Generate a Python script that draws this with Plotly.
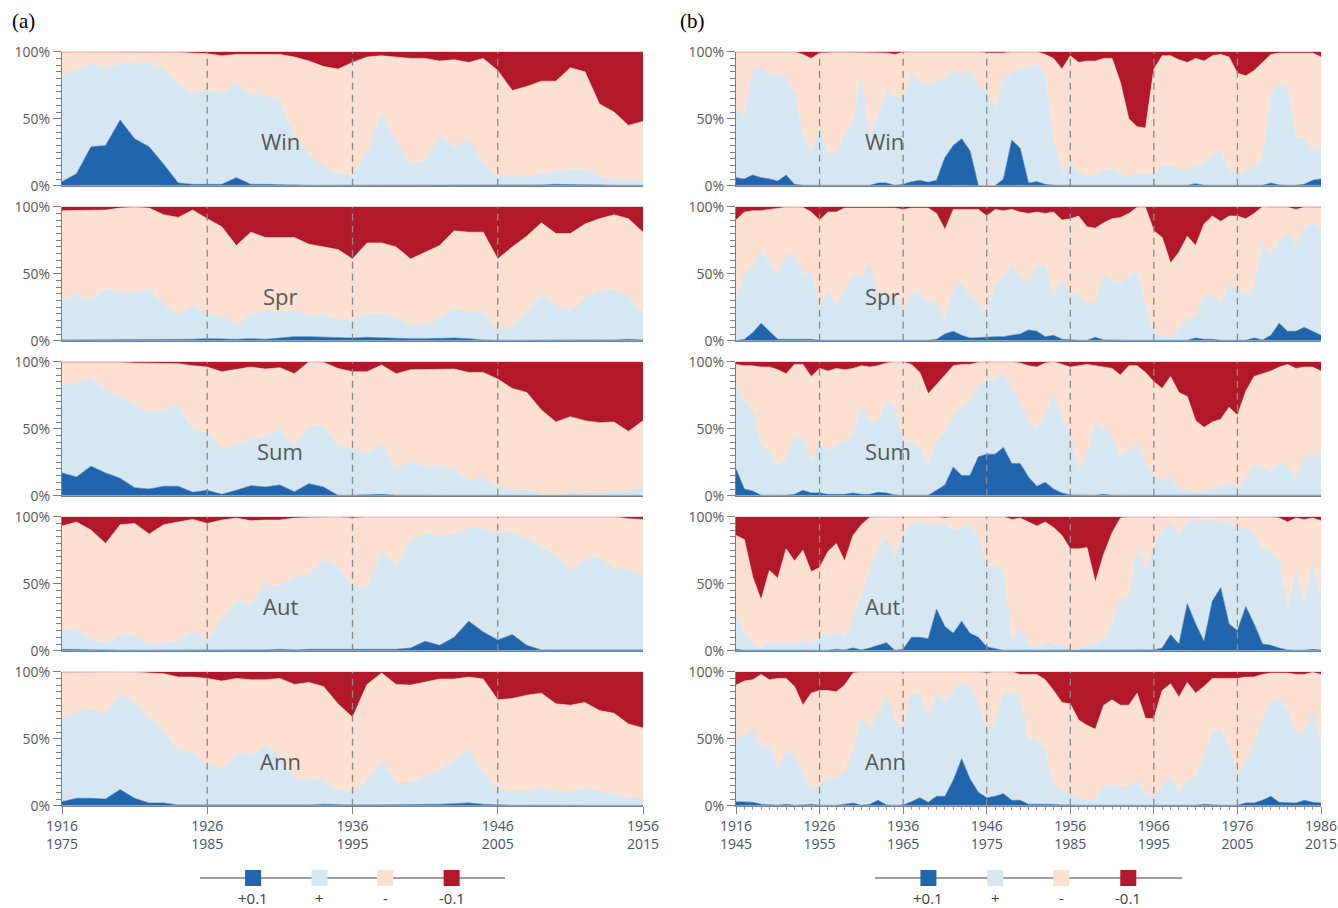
import numpy as np
import plotly.graph_objects as go

# ---------------- data ----------------
SEASONS = ["Win", "Spr", "Sum", "Aut", "Ann"]
LEGEND_LABELS = ["+0.1", "+", "-", "-0.1"]
COLORS = ["#2166ac", "#d6e7f1", "#fce0d1", "#b2182b"]

A_START, A_END = 1916, 1956
B_START, B_END = 1916, 1986
A_TICKS = [1916, 1926, 1936, 1946, 1956]
A_TICK_END = [1975, 1985, 1995, 2005, 2015]
B_TICKS = [1916, 1926, 1936, 1946, 1956, 1966, 1976, 1986]
B_TICK_END = [1945, 1955, 1965, 1975, 1985, 1995, 2005, 2015]

# cumulative boundaries (%) : top of "+0.1", top of "+", top of "-"
A_WIN_B1 = [3,9,29,30,49,35,29,16,2,1, 1,1,6,1,1,0.5,0.5,0.3,0.3,0.3, 0.3,0.5,0.5,0.5,0.3,0.3,0.3,0.3,0.3,0.3, 0.3,0.3,0.3,0.5,1,1,1,0.5,0.3,0.3, 0.3]
A_WIN_B2 = [84,86,91,88,91,92,91,87,76,69, 71,69,77,68,68,63,37,24,15,9, 8,25,54,33,16,19,38,29,34,17, 7,7,7,9,10,12,12,7,5,4, 4]
A_WIN_B3 = [100,100,100,100,100,100,100,100,99.5,99, 98.5,97,98,98,98,98,96,93,89,87, 92,96,97,96,95,95,93,94,92,95, 86,71,74,78,78,88,85,61,55,45, 48]

A_SPR_B1 = [0.5,0.5,0.5,1,0.5,1,1,1,1,1, 1.5,1,1,1.5,1,2,3,3,2.5,2.5, 2,2.5,2,1.5,1.5,1.5,2,2,1.5,0.5, 0.3,0.3,0.3,0.3,0.3,0.3,0.5,0.5,0.5,1, 0.5]
A_SPR_B2 = [30,35,30,39,36,36,38,27,20,26, 20,18,12,20,22,22,22,19,19,16, 15,20,20,17,12,12,17,24,22,21, 8,11,22,34,27,22,32,37,38,33, 21]
A_SPR_B3 = [97,97,97,97.5,99,99.5,99,94,92,97.5, 91,85,71,81,77,77,77,72,70,68, 61,73,73,70,61,66,71,82,81,81, 61,70,78,88,80,80,87,91,94,91, 81]

A_SUM_B1 = [17,14,22,17,13,6,5,7,7,2.5, 4,1,4,7.5,6.5,8,3,9,6.5,0.3, 0.3,0.5,1,0.3,0.3,0.3,0.3,0.3,0.3,0.3, 0.2,0.2,0.2,0.2,0.2,0.2,0.2,0.2,0.2,0.2, 0.2]
A_SUM_B2 = [83,84,88,79,74,68,62,64,67,50, 47,35,38,42,44,50,38,52,52,38, 35,32,39,21,25,22,22,20,12,13, 7,5,4,1,1,2,2,2,3,3, 7]
A_SUM_B3 = [99.5,99.5,100,99.5,99.5,99,99,99,98.5,97, 96,92.5,94.5,96,94.5,95.5,91,100,99.5,95, 92.5,92.5,97.5,91,94,94,94,94.5,92,92, 87,80,77,64,55,59,56,54.5,55,48, 56]

A_AUT_B1 = [1,1,0.5,0.5,0.3,0.3,0.3,0.3,0.3,0.3, 0.3,0.3,0.3,0.5,0.5,1,0.5,1,1,1, 1,1,1,1,2,7,4,10,22,14, 8,12,4,0.5,0.5,0.5,0.5,0.5,0.5,1, 0.5]
A_AUT_B2 = [15,16,8,6,12,11,5,6,7,15, 8,24,37,35,50,48,55,57,68,62, 48,48,74,64,83,88,86,87,92,91, 88,89,84,78,71,60,68,70,62,61, 56]
A_AUT_B3 = [93,96,90,80,94,95,87,94,96,98, 95,97.5,99,97,97.5,97.5,99,99.5,100,100, 99,100,100,100,100,100,100,100,100,100, 100,100,100,100,100,100,100,100,100,98.5, 98]

A_ANN_B1 = [3,5.5,5.5,5,12,5.5,2,2,0.5,0.5, 0.3,0.3,0.5,0.5,0.5,0.5,0.5,0.5,1,0.5, 0.5,0.5,0.5,0.5,0.5,0.8,1,1.5,2,1, 0.5,0.3,0.3,0.2,0.2,0.2,0.2,0.2,0.2,0.2, 0.2]
A_ANN_B2 = [65,70,72,69,83,77,65,56,42,40, 31,28,39,38,45,37,20,20,19,12, 10,19,33,17,17,22,27,34,42,25, 12,11,11,14,10,11,13,11,9,6, 5.5]
A_ANN_B3 = [99.5,99.5,99.5,99.5,100,100,99,98.5,96,96, 95,93,95,94,94,95,90.5,92,89,76, 66,90.5,99,90.5,90,92.5,94.5,94.5,96,94.5, 79,80,82.5,84,76,75,77,71,69,61, 58]

B_WIN_B1 = [6,5,8,6,5,3.5,8,1,0.3,0.3, 0.3,0.5,0.5,0.5,0.5,0.3,0.3,2,2,0.3, 1,3,4,2.5,4,21,30,35,26,0, 0,0,5,34,28,2,3,1,0.3,0.3,
            0.3,0.3,0.3,0.3,0.3,0.3,0.3,0.3,0.3,0.3, 0.3,0.3,0.3,0.3,0.3,1.5,0.3,0.3,0.3,0.3, 0.3,0.3,0.3,0.3,2,0.5,0.3,0.3,1,4, 5]
B_WIN_B2 = [57,52,87,88,83,83,80,70,38,25, 43,24,25,38,48,82,38,53,71,66, 67,84,78,75,78,80,86,84,85,73, 71,57,78,85,87,88,91,82,34,10,
            17,11,7,8,12,12,9,7,9,9, 9,15,15,13,12,15,17,23,26,12, 9,12,14,20,69,75,75,36,35,27, 28]
B_WIN_B3 = [100,100,100,100,100,100,100,100,98,95, 99,99.5,99.5,99.5,99.5,99.5,99.5,99.5,99,98, 99.5,100,100,100,100,100,100,100,100,100, 99,99,99,100,100,100,100,98,95,87,
            97,92,93,93,95,95,77,50,44,43, 87,97,97,94,92,95,93,97,98,96, 84,82,86,92,98,99,99,99,99,99, 96]

B_SPR_B1 = [0,1,6,13,7,1,1,1,1,1, 0.3,0.3,0.3,0.3,0.3,0.3,0.3,0.3,0.3,0.3, 0.3,0.3,0.3,0.3,1,5,7,4,2,2, 2.5,3,3,4,5,8,7,3,4,1,
            0.5,0.3,0.3,2.5,0.5,0.3,0.3,0.3,0.3,0.3, 0.3,0.3,0.3,0.3,0.3,2,1,1,0.3,0.3, 0.3,0.3,2,0.5,4,13,7,7,10,7, 4]
B_SPR_B2 = [31,50,56,67,59,50,64,64,49,51, 24,38,26,38,49,47,57,35,35,34, 23,35,36,28,29,16,38,43,34,29, 19,42,48,56,48,43,56,56,33,46,
            34,35,27,30,49,45,43,48,52,26, 5,4,2,9,17,17,33,34,28,41, 39,34,41,72,65,74,81,72,84,88, 84]
B_SPR_B3 = [90,96,97,97,98,99,99.5,99.5,99.5,96, 90,96,96,99,99,99,99,99,99,99, 98,99,99,99,95,83,98,98,98,98, 93,98,97,98,96,95,96,95,96,90,
            91,93,85,84,88,91,92,95,99.5,99.5, 82,77,58,66,78,71,87,93,89,93, 93,91,95,100,99.5,99.5,99.5,98,99.5,99.5, 99.5]

B_SUM_B1 = [20,5,3.5,0.3,0.3,0.3,0.3,1,4,2, 2,1,1,1,2,1,1,2.5,2,0.5, 0.3,0.3,0.3,0.3,4,8,21.5,15,15,29, 31,31,36,24,24,14,7,10,5,2,
            0.5,0.3,0.3,0.3,1,0.3,0.3,0.3,0.3,0.3, 0.3,0.3,0.3,0.3,0.3,0.3,0.3,0.3,0.3,0.3, 0.3,0.3,0.3,0.3,0.3,0.3,0.3,0.3,0.3,0.3, 0.3]
B_SUM_B2 = [82,70,65,38,33,23,28,45,42,26, 39,34,38,41,45,67,54,56,71,66, 40,40,36,24,41,48,60,66,71,83, 86,86,91,81,70,55,50,61,75,59,
            44,20,31,54,50,45,30,34,38,25, 15,12,14,6,3,2,4,5,7,10, 7,13,23,21,18,25,22,14,29,30, 31]
B_SUM_B3 = [98,97,97,96,96,94,91,98,98,89, 95,93,95,94,95,97,96,97,99,100, 100,98,92,76,83,90,97,98,98,99.5, 100,100,100,100,99,97,96,99,100,98,
            96,97,98,97,96,95,90,97,97,92, 85,80,89,77,74,56,51,55,57,66, 60,78,89,91,93,96,98,95,96,96, 93]

B_AUT_B1 = [1,0.3,0.3,0.3,0.3,0.3,0.3,0.3,0.3,0.3, 0.3,0.3,1,0.5,2,0.5,2,4,6,0.3, 1,10,10,9,31,18,13,22,13,10, 3,1.5,0.3,0.3,0.3,0.3,0.3,0.3,0.3,0.3,
            0.3,0.3,0.3,0.3,0.3,0.3,0.3,0.3,0.3,0.3, 0.5,2,12,5,35,20,7,37,47,20, 15,33,20,5,4,2,0.5,0.3,0.3,1, 0.5]
B_AUT_B2 = [26,13,5,2,7,4,6,5,8,6, 10,13,14,10,23,41,60,76,86,70, 87,95,96,94,95,94,90,92,93,86, 62,64,59,9,17,5,2,7,4,5,
            1,1,4,5,9,20,38,41,76,62, 78,90,95,87,97,97,97,97,97,95, 91,92,87,77,74,67,31,60,36,66, 38]
B_AUT_B3 = [86,83,55,38,60,54,76,67,75,59, 62,74,80,67,86,94,99.5,100,100,100, 100,100,100,100,100,99,100,100,100,100, 100,100,100,98,99,96,93,96,92,86,
            76,76,77,51,72,88,99,100,100,100, 100,100,100,100,100,100,100,100,100,100, 100,100,100,100,100,99,96,99,98,99, 97]

B_ANN_B1 = [3,3,2.5,1,0.5,0.3,1,0.3,0.5,1, 0.3,0.3,0.3,1,2,0.3,1,4,0.5,0.3, 0.5,3,6,2.5,7,7,19,35,20,10, 6,7,9,4,4,1,1,1.5,1,0.5,
            0.3,0.3,0.3,0.3,0.3,0.3,0.3,0.3,0.3,0.3, 0.3,0.3,0.3,0.3,0.3,0.3,1,0.5,0.3,0.3, 0.3,2,2,4,7,2.5,2.5,2,4,2.5, 2]
B_ANN_B2 = [50,53,57,43,46,28,40,39,25,13, 15,21,21,24,42,65,57,69,81,65, 59,83,84,67,84,78,86,91,90,77, 56,63,85,83,83,49,49,42,16,11,
            9,6,4,5,14,16,14,14,18,9, 7,15,21,10,19,21,37,54,57,44, 23,35,46,64,78,80,72,54,56,69, 48]
B_ANN_B3 = [90,93,94,98,94,95,95,89,75,84, 86,86,85,90,99,100,100,100,100,100, 100,100,100,100,100,100,100,100,100,100, 99,100,100,100,98,98,98,94,86,77,
            76,64,60,57,75,79,75,75,84,65, 65,86,91,81,92,84,89,95,95,95, 95,96,96,98,99,99,99,98,98,99.5, 98]

PANELS_A = [(A_WIN_B1, A_WIN_B2, A_WIN_B3), (A_SPR_B1, A_SPR_B2, A_SPR_B3), (A_SUM_B1, A_SUM_B2, A_SUM_B3),
            (A_AUT_B1, A_AUT_B2, A_AUT_B3), (A_ANN_B1, A_ANN_B2, A_ANN_B3)]
PANELS_B = [(B_WIN_B1, B_WIN_B2, B_WIN_B3), (B_SPR_B1, B_SPR_B2, B_SPR_B3), (B_SUM_B1, B_SUM_B2, B_SUM_B3),
            (B_AUT_B1, B_AUT_B2, B_AUT_B3), (B_ANN_B1, B_ANN_B2, B_ANN_B3)]

# ---------------- layout geometry (page pixels; body margin removed by post_script) ----------------
W, H = 1338, 908


def fx(px):
    return px / W


def fy(py):
    return 1 - py / H


XDOM = [(fx(62), fx(643)), (fx(736), fx(1321))]
ROW_TOP0, ROW_H, ROW_STEP = 51.7, 134.0, 155.0
LABEL_XFRAC = [0.376, 0.217]
FONT = "Open Sans"
AXCOL = "#7f7f7f"


def ax_ids(n):
    s = "" if n == 1 else str(n)
    return "x" + s, "y" + s, "xaxis" + s, "yaxis" + s


fig = go.Figure()
layout = dict(width=W, height=H, autosize=False, margin=dict(l=0, r=0, t=0, b=0, pad=0),
              paper_bgcolor="white", plot_bgcolor="white", showlegend=False, font=dict(family=FONT))
shapes, annotations = [], []

n = 0
for c, (panels, start, end, ticks, tick_end) in enumerate([
        (PANELS_A, A_START, A_END, A_TICKS, A_TICK_END),
        (PANELS_B, B_START, B_END, B_TICKS, B_TICK_END)]):
    years = np.arange(start, end + 1)
    for r, (b1, b2, b3) in enumerate(panels):
        n += 1
        b1 = np.asarray(b1, float)
        b2 = np.maximum(np.asarray(b2, float), b1)
        b3 = np.maximum(np.asarray(b3, float), b2)
        layers = [b1, b2 - b1, b3 - b2, 100 - b3]
        xa, ya, xkey, ykey = ax_ids(n)
        for k, vals in enumerate(layers):
            fig.add_trace(go.Scatter(x=years, y=vals, mode="lines", stackgroup=f"g{n}",
                                     line=dict(width=0.6, color=COLORS[k]), fillcolor=COLORS[k],
                                     hoverinfo="skip", xaxis=xa, yaxis=ya))
        top = ROW_TOP0 + r * ROW_STEP
        ydom = (fy(top + ROW_H), fy(top))
        bottom = r == 4
        xaxis = dict(domain=XDOM[c], range=[start, end], anchor=ya, showgrid=False, zeroline=False,
                     automargin=False, showline=True, linecolor=AXCOL, linewidth=1, tickvals=ticks,
                     ticktext=[f"{a}<br>{b}" for a, b in zip(ticks, tick_end)],
                     showticklabels=bottom, ticks="outside" if bottom else "", ticklen=7,
                     ticklabeloverflow="allow",
                     tickcolor=AXCOL, tickfont=dict(size=14, color="#44546a", family=FONT))
        if bottom and c == 1:
            xaxis["minor"] = dict(dtick=1, tick0=start, ticks="outside", ticklen=3, tickcolor="#a0a0a0")
        layout[xkey] = xaxis
        layout[ykey] = dict(domain=ydom, range=[0, 100], anchor=xa, showgrid=False, zeroline=False,
                            automargin=False, showline=True, linecolor=AXCOL, linewidth=1,
                            tickvals=[0, 50, 100], ticktext=["0%", "50%", "100%"], ticks="outside",
                            ticklen=8, tickcolor=AXCOL, ticklabeloverflow="allow",
                            minor=dict(dtick=5, ticks="outside", ticklen=5, tickcolor=AXCOL),
                            tickfont=dict(size=14, color="#595959", family=FONT))
        for t in ticks[1:-1]:
            shapes.append(dict(type="line", xref=xa, yref=f"{ya} domain", x0=t, x1=t, y0=0, y1=1,
                               line=dict(color="#8a8a8a", width=1.3, dash="7px,5px"), layer="above"))
        annotations.append(dict(xref=f"{xa} domain", yref=ya, x=LABEL_XFRAC[c], y=33,
                                text=SEASONS[r], showarrow=False,
                                font=dict(size=22, color="#595959", family=FONT)))

# ---------------- custom legends ----------------
LEG_XDOM = [(fx(200), fx(505)), (fx(875), fx(1182))]
LEG_POS = [0.174, 0.392, 0.607, 0.825]
for j, dom in enumerate(LEG_XDOM):
    n += 1
    xa, ya, xkey, ykey = ax_ids(n)
    fig.add_trace(go.Scatter(x=[0, 1], y=[0, 0], mode="lines", line=dict(color="#808080", width=1.6),
                             hoverinfo="skip", xaxis=xa, yaxis=ya))
    fig.add_trace(go.Scatter(x=LEG_POS, y=[0] * 4, mode="markers",
                             marker=dict(symbol="square", size=16, color=COLORS, line=dict(width=0)),
                             hoverinfo="skip", xaxis=xa, yaxis=ya))
    layout[xkey] = dict(domain=dom, range=[0, 1], anchor=ya, visible=False, fixedrange=True,
                        automargin=False)
    layout[ykey] = dict(domain=(fy(893), fy(863)), range=[-1, 1], anchor=xa,
                        visible=False, fixedrange=True, automargin=False)
    for p, lab in zip(LEG_POS, LEGEND_LABELS):
        annotations.append(dict(xref=xa, yref=ya, x=p, y=0, yshift=-20, text=lab, showarrow=False,
                                font=dict(size=15, color="#404040", family=FONT)))

for txt, px in [("(a)", 10), ("(b)", 678)]:
    annotations.append(dict(xref="paper", yref="paper", x=fx(px), y=fy(21), text=txt,
                            showarrow=False, xanchor="left", yanchor="middle",
                            font=dict(size=21, color="black", family="Liberation Serif")))

layout["shapes"] = shapes
layout["annotations"] = annotations
fig.update_layout(**layout)
fig.write_html("out.html", config={"displayModeBar": False, "staticPlot": True},
               post_script="document.body.style.margin='0';document.body.style.overflow='hidden';")
